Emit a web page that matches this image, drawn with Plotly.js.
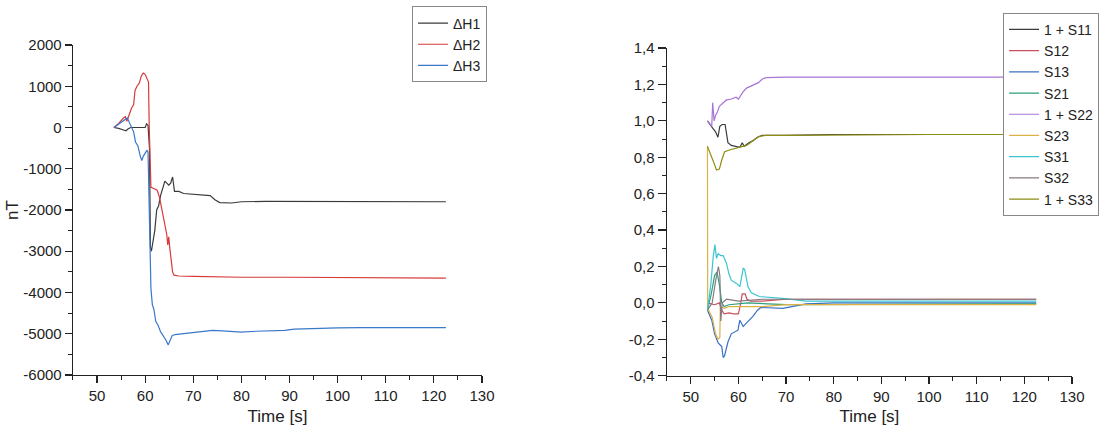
<!DOCTYPE html>
<html>
<head>
<meta charset="utf-8">
<script src="https://cdn.plot.ly/plotly-3.0.1.min.js"></script>
<style>html,body{margin:0;padding:0;background:#fff}#chart{width:1109px;height:429px}</style>
</head>
<body>
<div id="chart"></div>
<script>
// ---------- Left chart data: ΔH (nT) vs time (s) ----------
const h1_t = [53.5,54.5,55.5,56,56.5,57,58,59,60,60.3,60.6,60.9,61.1,61.3,61.6,62,62.4,62.8,63.2,63.7,64.1,64.5,64.9,65.3,65.7,66.1,67,68,70,72,73.5,74.5,75.5,78,80,85,90,95,100,110,122.5];
const h1_v = [0,-20,-60,-80,-30,0,0,0,0,90,50,-500,-2900,-3000,-2800,-2500,-2000,-1900,-1650,-1450,-1300,-1350,-1400,-1350,-1200,-1550,-1550,-1600,-1620,-1650,-1650,-1750,-1820,-1830,-1800,-1790,-1790,-1790,-1800,-1790,-1800];

const h2_t = [53.5,54.5,55.5,55.9,56.2,56.6,57.2,57.6,57.9,58.3,58.8,59.2,59.6,60,60.4,60.7,60.85,61,61.2,61.8,62.5,63,63.5,64,64.5,64.7,64.9,65.1,65.4,65.7,66,67,70,80,90,100,110,122.5];
const h2_v = [0,100,230,260,150,300,480,550,900,1000,1080,1250,1320,1290,1200,1100,0,-1000,-1450,-1480,-1520,-1700,-2000,-2300,-2600,-2850,-2650,-2900,-3200,-3500,-3580,-3600,-3610,-3630,-3630,-3640,-3640,-3650];

const h3_t = [53.5,54.5,55.5,56.3,56.8,57.2,57.6,58,58.5,59,59.3,59.6,60,60.4,60.6,60.8,61,61.2,61.5,61.8,62.2,62.7,63.2,63.8,64.3,64.8,65.2,65.6,66.2,67,68,70,72,74,76,78,80,83,86,89,91,94,96,100,105,110,115,122.5];
const h3_v = [0,80,180,230,100,-20,-100,-350,-450,-700,-800,-700,-620,-550,-600,-1500,-3000,-3900,-4300,-4400,-4700,-4800,-4950,-5050,-5150,-5270,-5150,-5050,-5020,-5010,-5000,-4980,-4940,-4920,-4930,-4950,-4960,-4940,-4930,-4920,-4890,-4880,-4860,-4860,-4850,-4850,-4855,-4850];

// ---------- Right chart data: S matrix elements vs time (s) ----------
const s11_t = [53.5,54,54.6,55.2,55.7,56.1,56.6,57.2,57.5,57.8,58.5,59.5,60.3,60.8,61.2,61.7,62.2,63,64,65,70,80,100,122.5];
const s11_v = [1.0,0.98,0.96,0.94,0.91,0.97,0.98,0.98,0.93,0.88,0.865,0.86,0.855,0.88,0.86,0.87,0.88,0.89,0.91,0.92,0.92,0.925,0.925,0.925];

const s12_t = [53.5,55,56,56.5,57,58,59,60,60.5,60.8,61.4,61.8,62.5,65,70,80,100,122.5];
const s12_v = [0,-0.01,0.0,-0.04,-0.06,-0.055,-0.06,-0.06,0.0,0.05,0.05,0.02,0.01,0.01,0.02,0.02,0.02,0.02];

const s13_t = [53.5,54.4,55,55.75,56.5,56.8,57.1,57.8,58.5,59.2,59.9,60.3,61,61.7,62.3,63,64,64.7,69.3,74.2,80,100,122.5];
const s13_v = [-0.04,-0.095,-0.17,-0.22,-0.24,-0.30,-0.29,-0.215,-0.17,-0.16,-0.15,-0.095,-0.13,-0.11,-0.095,-0.075,-0.04,-0.025,-0.03,-0.005,0.0,0.0,0.0];

const s21_t = [53.5,54.3,55,55.5,56,56.5,57,58,62,70,122.5];
const s21_v = [-0.04,0.05,0.15,0.17,0.1,0.0,-0.02,-0.01,0.0,-0.01,-0.005];

const s22_t = [53.5,54,54.4,54.6,54.9,55.2,55.6,56,56.5,57,57.5,58.5,59.5,60,60.5,61,61.7,62.5,63.4,64.2,65,65.8,70,80,100,122.5];
const s22_v = [1.0,0.98,0.97,1.10,1.0,1.03,1.05,1.08,1.09,1.10,1.115,1.12,1.13,1.12,1.14,1.16,1.18,1.19,1.20,1.21,1.23,1.237,1.24,1.24,1.24,1.24];

const s23_t = [53.5,53.55,54.5,55.2,55.7,56.1,56.2,57,58,62,65,70,122.5];
const s23_v = [0.86,-0.03,-0.08,-0.17,-0.2,-0.19,-0.02,-0.03,-0.02,-0.02,-0.02,-0.01,-0.01];

const s31_t = [53.5,54.2,54.7,55.06,55.4,55.75,56.3,56.8,57.5,58,58.5,59.6,60.3,61,61.3,61.5,62,62.7,64.4,69.3,74.2,80,100,122.5];
const s31_v = [-0.04,0.1,0.25,0.32,0.245,0.27,0.26,0.26,0.217,0.16,0.125,0.107,0.09,0.19,0.184,0.15,0.09,0.055,0.035,0.025,0.01,0.01,0.01,0.01];

const s32_t = [53.5,54.5,55.2,55.8,56.1,56.3,56.6,57.5,60,65,70,122.5];
const s32_v = [-0.04,0.0,0.12,0.2,0.15,-0.1,0.0,0.02,0.01,0.02,0.02,0.02];

const s33_t = [53.5,54,54.7,55.4,56,56.5,57.1,58.1,59.4,60.3,61.7,62.5,63.2,64.4,65.8,70,80,90,100,122.5];
const s33_v = [0.86,0.83,0.78,0.73,0.735,0.785,0.83,0.84,0.85,0.857,0.865,0.88,0.895,0.915,0.92,0.92,0.922,0.925,0.925,0.925];

// ---------- Tick labels ----------
const xTicks = [50,60,70,80,90,100,110,120,130];
const xLabels = ['50','60','70','80','90','100','110','120','130'];
const yLeftTicks = [-6000,-5000,-4000,-3000,-2000,-1000,0,1000,2000];
const yLeftLabels = ['-6000','-5000','-4000','-3000','-2000','-1000','0','1000','2000'];
const yRightTicks = [-0.4,-0.2,0,0.2,0.4,0.6,0.8,1.0,1.2,1.4];
const yRightLabels = ['-0,4','-0,2','0,0','0,2','0,4','0,6','0,8','1,0','1,2','1,4'];

const FONT = 'Liberation Sans, Arial, sans-serif';
const TXT = '#222';

function ln(x, y, name, color, xa, ya, leg) {
  return {x: x, y: y, name: name, type: 'scatter', mode: 'lines',
          line: {color: color, width: 1.2}, xaxis: xa, yaxis: ya, legend: leg};
}

const traces = [
  ln(h1_t, h1_v, 'ΔH1', '#3a3a3a', 'x', 'y', 'legend'),
  ln(h2_t, h2_v, 'ΔH2', '#d63a3a', 'x', 'y', 'legend'),
  ln(h3_t, h3_v, 'ΔH3', '#3a78c8', 'x', 'y', 'legend'),
  ln(s11_t, s11_v, '1 + S11', '#3c3c3c', 'x2', 'y2', 'legend2'),
  ln(s12_t, s12_v, 'S12', '#c8505e', 'x2', 'y2', 'legend2'),
  ln(s13_t, s13_v, 'S13', '#3a70c4', 'x2', 'y2', 'legend2'),
  ln(s21_t, s21_v, 'S21', '#2e9e7c', 'x2', 'y2', 'legend2'),
  ln(s22_t, s22_v, '1 + S22', '#a776d6', 'x2', 'y2', 'legend2'),
  ln(s23_t, s23_v, 'S23', '#dcb246', 'x2', 'y2', 'legend2'),
  ln(s31_t, s31_v, 'S31', '#3cc4d0', 'x2', 'y2', 'legend2'),
  ln(s32_t, s32_v, 'S32', '#857a80', 'x2', 'y2', 'legend2'),
  ln(s33_t, s33_v, '1 + S33', '#8c8c14', 'x2', 'y2', 'legend2')
];

function xax(domain, anchor) {
  return {domain: domain, anchor: anchor, range: [45, 130], showgrid: false, zeroline: false,
    showline: true, linecolor: '#222', linewidth: 1.3, ticks: 'outside', ticklen: 7, tickwidth: 1.2, tickcolor: '#222',
    tickvals: xTicks, ticktext: xLabels, tickfont: {family: FONT, size: 15, color: TXT},
    minor: {ticks: 'outside', ticklen: 4, tickwidth: 1, tickcolor: '#222', dtick: 5, tick0: 45},
    title: {text: 'Time [s]', font: {family: FONT, size: 17, color: TXT}, standoff: 6}};
}

const layout = {
  width: 1109, height: 429,
  margin: {l: 0, r: 0, t: 0, b: 0},
  paper_bgcolor: '#fff', plot_bgcolor: '#fff',
  showlegend: true,
  xaxis: xax([0.0658, 0.4346], 'y'),
  xaxis2: xax([0.6014, 0.9666], 'y2'),
  yaxis: {domain: [0.1259, 0.8951], anchor: 'x', range: [-6000, 2000], showgrid: false, zeroline: false,
    showline: true, linecolor: '#222', linewidth: 1.3, ticks: 'outside', ticklen: 7, tickwidth: 1.2, tickcolor: '#222',
    tickvals: yLeftTicks, ticktext: yLeftLabels, tickfont: {family: FONT, size: 15, color: TXT},
    minor: {ticks: 'outside', ticklen: 4, tickwidth: 1, tickcolor: '#222', dtick: 500},
    title: {text: 'nT', font: {family: FONT, size: 17, color: TXT}, standoff: 0}},
  yaxis2: {domain: [0.1242, 0.888], anchor: 'x2', range: [-0.4, 1.4], showgrid: false, zeroline: false,
    showline: true, linecolor: '#222', linewidth: 1.3, ticks: 'outside', ticklen: 8, tickwidth: 1.2, tickcolor: '#222',
    tickvals: yRightTicks, ticktext: yRightLabels, tickfont: {family: FONT, size: 15, color: TXT},
    minor: {ticks: 'outside', ticklen: 4, tickwidth: 1, tickcolor: '#222', dtick: 0.1}},
  legend: {x: 0.3715, y: 0.985, xanchor: 'left', yanchor: 'top', bgcolor: '#fff',
    bordercolor: '#888', borderwidth: 1, font: {family: FONT, size: 14, color: TXT},
    tracegroupgap: 0, itemwidth: 30},
  legend2: {x: 0.9045, y: 0.97, xanchor: 'left', yanchor: 'top', bgcolor: '#fff',
    bordercolor: '#888', borderwidth: 1, font: {family: FONT, size: 14, color: TXT},
    tracegroupgap: 0, itemwidth: 30}
};

Plotly.newPlot('chart', traces, layout, {displayModeBar: false, staticPlot: true});
</script>
</body>
</html>
